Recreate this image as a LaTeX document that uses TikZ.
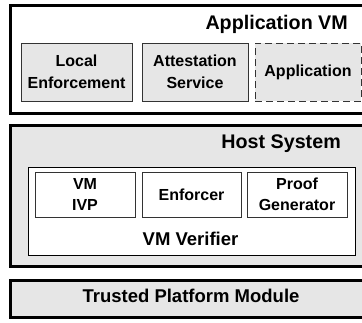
\documentclass[tikz,border=0pt]{standalone}
\usepackage{fontspec}
\setmainfont{Liberation Sans}
\definecolor{boxgray}{HTML}{E6E6E6}
\definecolor{edgegray}{HTML}{333333}
\tikzset{
  outerbox/.style={draw=black, line width=3pt, anchor=north west, inner sep=0pt},
  innerbox/.style={draw=edgegray, line width=1pt, inner sep=0pt, align=center,
    font=\fontsize{16}{21.5}\selectfont\bfseries},
  bigtext/.style={font=\fontsize{18.5}{22}\selectfont\bfseries, inner sep=0pt},
  titletext/.style={font=\fontsize{19.7}{23}\selectfont\bfseries, inner sep=0pt},
}
\begin{document}
\begin{tikzpicture}[x=1pt,y=-1pt]
\useasboundingbox (0,0) rectangle (362,322);
\clip (0,0) rectangle (362,322);
% Application VM
\node[outerbox, fill=white, minimum width=366pt, minimum height=108pt] (appvm) at (9,3.5) {};
\node[titletext, anchor=base east] (appvmtitle) at (348,29.5) {Application VM};
\node[innerbox, fill=boxgray, minimum width=111pt, minimum height=58pt] (le) at (76.5,72) {Local\\Enforcement};
\node[innerbox, fill=boxgray, minimum width=106pt, minimum height=58pt] (as) at (195,72) {Attestation\\Service};
\node[innerbox, fill=boxgray, dash pattern=on 7pt off 4pt, minimum width=106pt, minimum height=58pt] (app) at (308,72) {Application};
% Host System
\node[outerbox, fill=boxgray, minimum width=366pt, minimum height=141.5pt] (host) at (9,123.5) {};
\node[titletext, anchor=base east] (hosttitle) at (341,148) {Host System};
\node[draw=black, line width=1pt, fill=white, minimum width=327pt, minimum height=88pt, inner sep=0pt] (vmv) at (191.5,211) {};
\node[innerbox, fill=white, minimum width=100pt, minimum height=45pt] (ivp) at (85,194.5) {VM\\IVP};
\node[innerbox, fill=white, minimum width=99pt, minimum height=45pt] (enf) at (191.5,194.5) {Enforcer};
\node[innerbox, fill=white, minimum width=100pt, minimum height=45pt] (pg) at (297,194.5) {Proof\\Generator};
\node[bigtext, anchor=base] (vmvtitle) at (190.5,245) {VM Verifier};
% TPM
\node[outerbox, fill=boxgray, minimum width=366pt, minimum height=37.5pt] (tpm) at (9,278.5) {};
\node[bigtext, anchor=base] (tpmtitle) at (191,302) {Trusted Platform Module};
\end{tikzpicture}
\end{document}
